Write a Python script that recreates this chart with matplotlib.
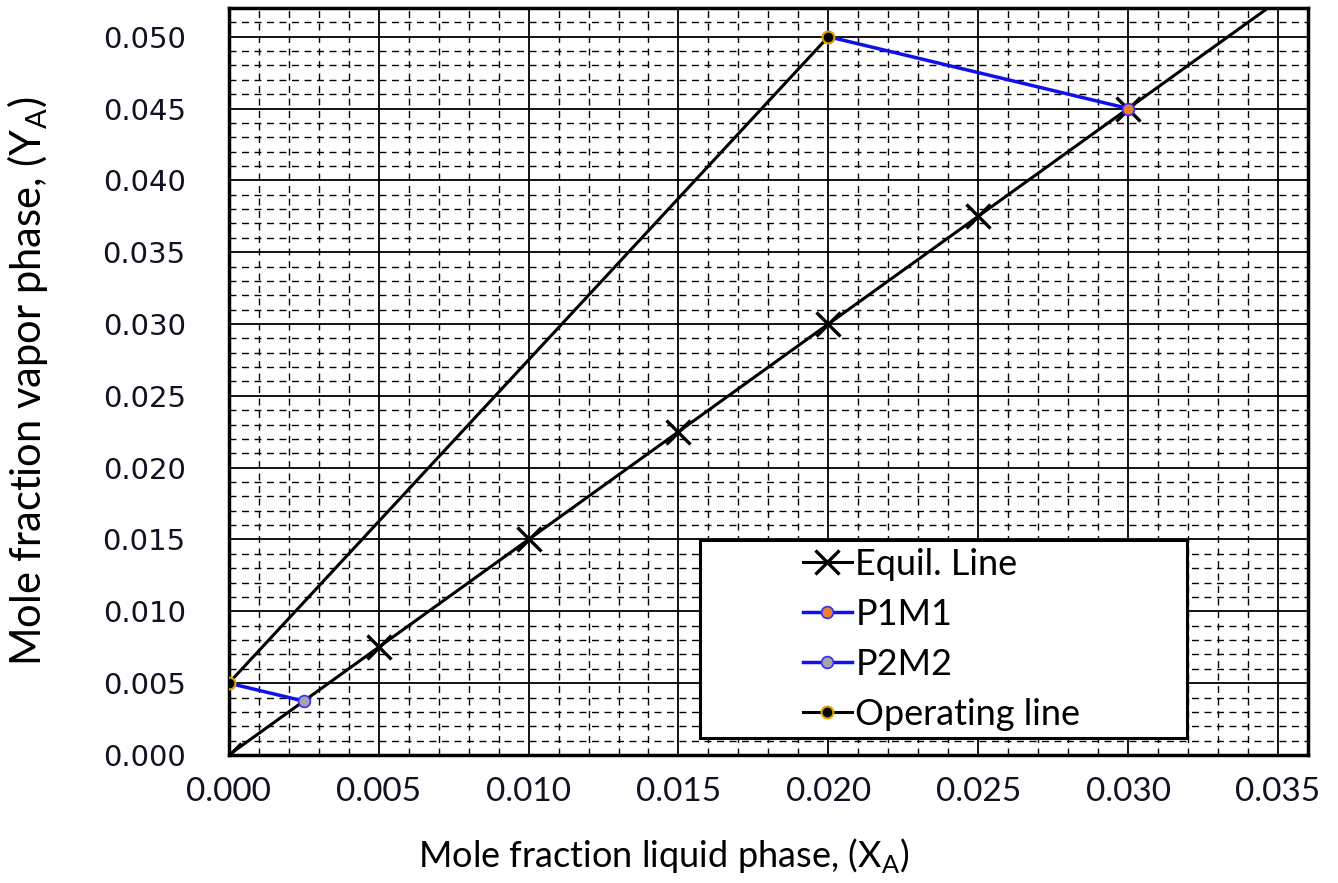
import matplotlib.pyplot as plt
from matplotlib.patches import Rectangle
from matplotlib.ticker import MultipleLocator, FormatStrFormatter

# Data
equil_x = [0.000, 0.005, 0.010, 0.015, 0.020, 0.025, 0.030, 0.035]
equil_y = [0.0000, 0.0075, 0.0150, 0.0225, 0.0300, 0.0375, 0.0450, 0.0525]

p1m1_x = [0.020, 0.030]
p1m1_y = [0.050, 0.045]

p2m2_x = [0.000, 0.0025]
p2m2_y = [0.005, 0.00375]

oper_x = [0.000, 0.020]
oper_y = [0.005, 0.050]

plt.rcParams['font.family'] = ['Lato', 'DejaVu Sans']

fig = plt.figure(figsize=(13.38, 8.83), dpi=100)
ax = fig.add_axes([0.171, 0.145, 0.8066, 0.846])

ax.set_xlim(0, 0.036)
ax.set_ylim(0, 0.052)

# Grid
ax.xaxis.set_major_locator(MultipleLocator(0.005))
ax.yaxis.set_major_locator(MultipleLocator(0.005))
ax.xaxis.set_minor_locator(MultipleLocator(0.001))
ax.yaxis.set_minor_locator(MultipleLocator(0.001))
ax.xaxis.set_major_formatter(FormatStrFormatter('%.3f'))
ax.yaxis.set_major_formatter(FormatStrFormatter('%.3f'))
ax.grid(which='major', color='black', linewidth=1.3, zorder=0)
ax.grid(which='minor', color='black', linewidth=1.0, linestyle=(0, (5, 4)), zorder=0)
ax.set_axisbelow(True)
ax.tick_params(which='both', length=0)
ax.tick_params(axis='x', pad=16, labelsize=24, labelcolor='#111122')
ax.tick_params(axis='y', pad=31, labelcolor='#111122')
for lbl in ax.get_yticklabels():
    lbl.set_fontfamily('DejaVu Sans')
    lbl.set_fontsize(21)
for s in ax.spines.values():
    s.set_linewidth(2.5)
    s.set_color('black')

# Series
ax.plot(equil_x, equil_y, color='black', linewidth=2.2, marker='x',
        markersize=17, markeredgewidth=2.4, markevery=list(range(7)),
        label='Equil. Line', zorder=3)
ax.plot(p1m1_x, p1m1_y, color='#1010ee', linewidth=2.5, marker='o',
        markersize=8.5, markerfacecolor='#ed7d31', markeredgecolor='#3030ff',
        markeredgewidth=1.2, label='P1M1', zorder=4)
ax.plot(p2m2_x, p2m2_y, color='#1010ee', linewidth=2.5, marker='o',
        markersize=8.5, markerfacecolor='#a5a5a5', markeredgecolor='#3030ff',
        markeredgewidth=1.2, label='P2M2', zorder=4)
ax.plot(oper_x, oper_y, color='black', linewidth=2.2, marker='o',
        markersize=8.5, markerfacecolor='black', markeredgecolor='#e0a000',
        markeredgewidth=1.5, label='Operating line', zorder=5)

ax.set_xlabel('Mole fraction liquid phase, (X$_\\mathregular{A}$)', fontsize=26)
ax.xaxis.set_label_coords(0.403, -0.108)
ax.set_ylabel('Mole fraction vapor phase, (Y$_\\mathregular{A}$)', fontsize=30)
ax.yaxis.set_label_coords(-0.166, 0.5)

# Legend box (Excel style, wide frame with empty left area)
ax.add_patch(Rectangle((0.4365, 0.0228), 0.4515, 0.265, transform=ax.transAxes,
                       facecolor='white', edgecolor='black', linewidth=2.2, zorder=6))
leg = ax.legend(loc='upper left', bbox_to_anchor=(0.532, 0.277), fontsize=26,
                frameon=False, borderpad=0, labelspacing=0.47, handlelength=1.35,
                handletextpad=0.1, borderaxespad=0)
leg.set_zorder(7)

fig.savefig('out.png', dpi=100)
